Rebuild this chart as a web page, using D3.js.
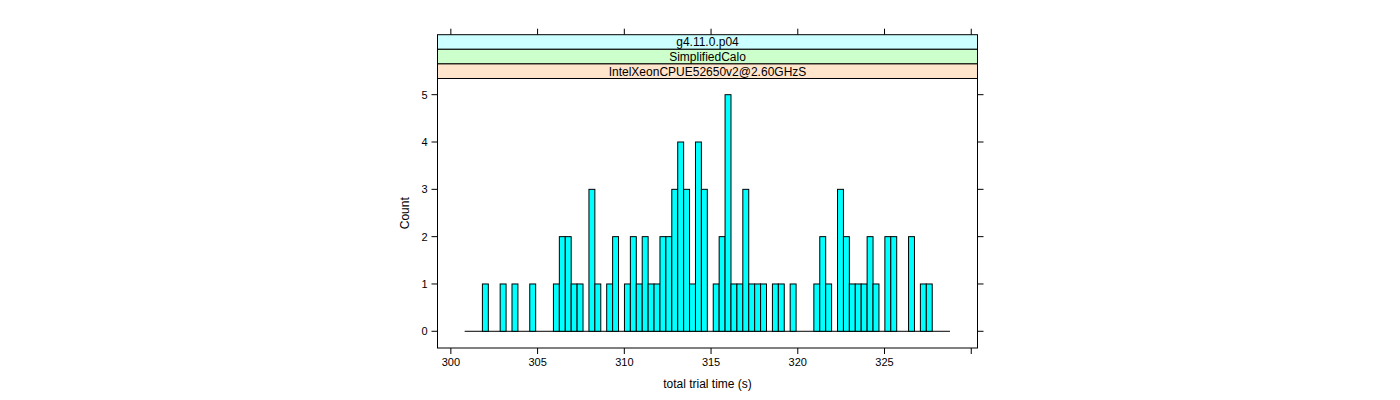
<!DOCTYPE html>
<html>
<head>
<meta charset="utf-8">
<script src="https://cdn.jsdelivr.net/npm/d3@7"></script>
<style>
  body { margin: 0; background: #fff; }
  text { font-family: "Liberation Sans", Arial, sans-serif; }
</style>
</head>
<body>
<svg id="chart" width="1400" height="400"></svg>
<script>
// histogram bins (equal width)
const binStart = 300.795;
const binWidth = 0.3412;
const counts = [
  0, 0, 0, 1, 0, 0, 1, 0, 1, 0,
  0, 1, 0, 0, 0, 1, 2, 2, 1, 1,
  0, 3, 1, 0, 1, 2, 0, 1, 2, 1,
  2, 1, 1, 2, 2, 3, 4, 3, 1, 4,
  3, 0, 1, 2, 5, 1, 1, 3, 1, 1,
  1, 0, 1, 1, 0, 1, 0, 0, 0, 1,
  2, 1, 0, 3, 2, 1, 1, 1, 2, 1,
  0, 2, 2, 0, 0, 2, 0, 1, 1, 0,
  0, 0
];
const xTicks = [300, 305, 310, 315, 320, 325, 330];
const xLabels = [300, 305, 310, 315, 320, 325];
const yTicks = [0, 1, 2, 3, 4, 5];
const strips = [
  { label: "g4.11.0.p04", fill: "#ccffff" },
  { label: "SimplifiedCalo", fill: "#ccffcc" },
  { label: "IntelXeonCPUE52650v2@2.60GHzS", fill: "#ffe5cc" }
];

const svg = d3.select("#chart");
const pLeft = 437.5, pRight = 977.5, pTop = 78.5, pBottom = 348;
const stripH = 14.6;

const x = d3.scaleLinear().domain([299.23, 330.36]).range([pLeft, pRight]);
const y = d3.scaleLinear().domain([-0.353, 5.342]).range([pBottom, pTop]);

const bins = counts.map((c, i) => ({
  x0: binStart + i * binWidth,
  x1: binStart + (i + 1) * binWidth,
  count: c
}));

// baseline (zero-height bars)
svg.append("line")
  .attr("x1", x(bins[0].x0))
  .attr("x2", x(bins[bins.length - 1].x1))
  .attr("y1", y(0)).attr("y2", y(0))
  .attr("stroke", "#000");

svg.selectAll("rect.bar")
  .data(bins.filter(d => d.count > 0))
  .join("rect")
  .attr("class", "bar")
  .attr("x", d => x(d.x0))
  .attr("y", d => y(d.count))
  .attr("width", d => x(d.x1) - x(d.x0))
  .attr("height", d => y(0) - y(d.count))
  .attr("fill", "#00ffff")
  .attr("stroke", "#000")
  .attr("stroke-width", 1);

// panel box
svg.append("rect")
  .attr("x", pLeft).attr("y", pTop)
  .attr("width", pRight - pLeft).attr("height", pBottom - pTop)
  .attr("fill", "none").attr("stroke", "#000");

// strips
const stripTop = pTop - stripH * strips.length;
strips.forEach((s, i) => {
  const sy = stripTop + i * stripH;
  svg.append("rect")
    .attr("x", pLeft).attr("y", sy)
    .attr("width", pRight - pLeft).attr("height", stripH)
    .attr("fill", s.fill).attr("stroke", "#000");
  svg.append("text")
    .attr("x", (pLeft + pRight) / 2)
    .attr("y", sy + stripH / 2 + 4.3)
    .attr("text-anchor", "middle")
    .style("font-size", "12px")
    .text(s.label);
});

// x ticks bottom and top
const tickLen = 6;
svg.selectAll("line.xb")
  .data(xTicks).join("line").attr("class", "xb")
  .attr("x1", d => x(d)).attr("x2", d => x(d))
  .attr("y1", pBottom).attr("y2", pBottom + tickLen)
  .attr("stroke", "#000");
svg.selectAll("line.xt")
  .data(xTicks).join("line").attr("class", "xt")
  .attr("x1", d => x(d)).attr("x2", d => x(d))
  .attr("y1", stripTop).attr("y2", stripTop - tickLen)
  .attr("stroke", "#000");
svg.selectAll("text.xl")
  .data(xLabels).join("text").attr("class", "xl")
  .attr("x", d => x(d)).attr("y", pBottom + 18)
  .attr("text-anchor", "middle")
  .style("font-size", "11px")
  .text(d => d);

// y ticks left and right
svg.selectAll("line.yl")
  .data(yTicks).join("line").attr("class", "yl")
  .attr("x1", pLeft - tickLen).attr("x2", pLeft)
  .attr("y1", d => y(d)).attr("y2", d => y(d))
  .attr("stroke", "#000");
svg.selectAll("line.yr")
  .data(yTicks).join("line").attr("class", "yr")
  .attr("x1", pRight).attr("x2", pRight + tickLen)
  .attr("y1", d => y(d)).attr("y2", d => y(d))
  .attr("stroke", "#000");
svg.selectAll("text.ylab")
  .data(yTicks).join("text").attr("class", "ylab")
  .attr("x", pLeft - 13).attr("y", d => y(d) + 4)
  .attr("text-anchor", "middle")
  .style("font-size", "11px")
  .text(d => d);

// axis titles
svg.append("text")
  .attr("x", (pLeft + pRight) / 2).attr("y", pBottom + 40)
  .attr("text-anchor", "middle")
  .style("font-size", "12px")
  .text("total trial time (s)");
svg.append("text")
  .attr("transform", `translate(409,${(pTop + pBottom) / 2}) rotate(-90)`)
  .attr("text-anchor", "middle")
  .style("font-size", "12px")
  .text("Count");
</script>
</body>
</html>
